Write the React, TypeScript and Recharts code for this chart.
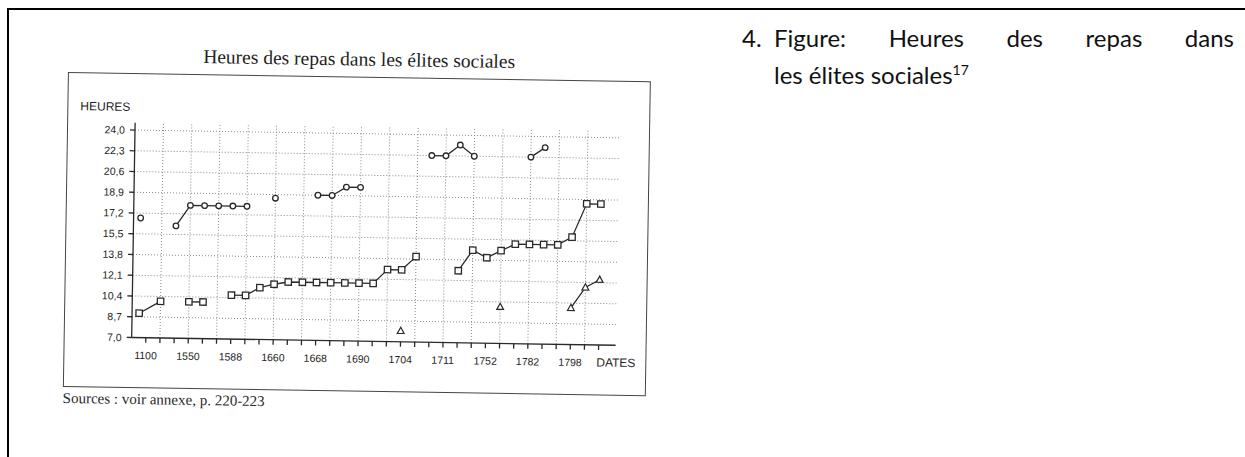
import React from "react";
import { LineChart, Line, XAxis, YAxis, ReferenceLine } from "recharts";

// slot positions along the date axis (one slot per tick, labels every 3rd tick)
const DATE_LABELS = ["1100", "1550", "1588", "1660", "1668", "1690", "1704", "1711", "1752", "1782", "1798"];
const HOUR_TICKS = [7.0, 8.7, 10.4, 12.1, 13.8, 15.5, 17.2, 18.9, 20.6, 22.3, 24.0];

// each inner array is one connected run of points: [slot, hour]
const CIRCLE_RUNS: [number, number][][] = [
  [[-0.5, 16.8]],
  [[2, 16.2], [3, 17.9], [4, 17.9], [5, 17.9], [6, 17.9], [7, 17.9]],
  [[9, 18.6]],
  [[12, 18.9], [13, 18.9], [14, 19.6], [15, 19.6]],
  [[20, 22.3], [21, 22.3], [22, 23.2], [23, 22.3]],
  [[27, 22.3], [28, 23.1]],
];

const SQUARE_RUNS: [number, number][][] = [
  [[-0.5, 9.0], [1, 10.0]],
  [[3, 10.0], [4, 10.0]],
  [[6, 10.6], [7, 10.6], [8, 11.25], [9, 11.55], [10, 11.75], [11, 11.75], [12, 11.75], [13, 11.75], [14, 11.75], [15, 11.75], [16, 11.75], [17, 12.9], [18, 12.9], [19, 14.0]],
  [[22, 12.9], [23, 14.6], [24, 14.0], [25, 14.6], [26, 15.15], [27, 15.15], [28, 15.15], [29, 15.15], [30, 15.8], [31, 18.55], [32, 18.55]],
];

const TRIANGLE_RUNS: [number, number][][] = [
  [[18, 7.9]],
  [[25, 10.0]],
  [[30, 10.0], [31, 11.7], [32, 12.35]],
];

const SLOT_TICKS = Array.from({ length: 33 }, (_, i) => i);
const GRID_X = SLOT_TICKS.filter((i) => i % 2 === 1);
const INK = "#2a2a2a";

const toRows = (run: [number, number][]) => run.map(([x, y]) => ({ x, y }));

const CircleDot = (p: any) =>
  p.cx == null ? <g key={p.index} /> : (
    <circle key={p.index} cx={p.cx} cy={p.cy} r={2.8} fill="#fff" stroke={INK} strokeWidth={1.3} />
  );

const SquareDot = (p: any) =>
  p.cx == null ? <g key={p.index} /> : (
    <rect key={p.index} x={p.cx - 3.2} y={p.cy - 3.2} width={6.4} height={6.4} fill="#fff" stroke={INK} strokeWidth={1.3} />
  );

const TriangleDot = (p: any) =>
  p.cx == null ? <g key={p.index} /> : (
    <polygon
      key={p.index}
      points={`${p.cx},${p.cy - 3.6} ${p.cx - 3.4},${p.cy + 2.6} ${p.cx + 3.4},${p.cy + 2.6}`}
      fill="#fff"
      stroke={INK}
      strokeWidth={1.2}
    />
  );

const dateLabel = (v: number) => (v % 3 === 0 && DATE_LABELS[v / 3] ? DATE_LABELS[v / 3] : "");
const hourLabel = (v: number) => v.toFixed(1).replace(".", ",");

const tickFont = { fontFamily: "Liberation Sans, Arial, sans-serif", fontSize: 10.5, fill: "#1e1e1e" };

export default function App() {
  return (
    <div style={{ position: "absolute", left: 0, top: 0, width: 1245, height: 457, background: "#fff", overflow: "hidden" }}>
      {/* page frame */}
      <div style={{ position: "absolute", left: 7, top: 8, width: 1250, height: 460, borderTop: "2px solid #000", borderLeft: "2px solid #000" }} />

      {/* scanned figure, slightly tilted */}
      <div style={{ position: "absolute", left: 0, top: 0, width: 700, height: 457, transform: "rotate(0.92deg)", transformOrigin: "134px 130px" }}>
        <div style={{ position: "absolute", left: 0, width: 716, top: 45, textAlign: "center", fontFamily: "Liberation Serif, Times New Roman, serif", fontSize: 19.5, color: "#1e1e1e" }}>
          Heures des repas dans les élites sociales
        </div>
        <div style={{ position: "absolute", left: 67, top: 73, width: 583, height: 315, border: "1.3px solid #444", boxSizing: "border-box" }} />
        <div style={{ position: "absolute", left: 80, top: 100, fontFamily: "Liberation Sans, Arial, sans-serif", fontSize: 12, color: "#1e1e1e" }}>
          HEURES
        </div>
        <div style={{ position: "absolute", left: 600, top: 348, fontFamily: "Liberation Sans, Arial, sans-serif", fontSize: 12, color: "#1e1e1e" }}>
          DATES
        </div>
        <div style={{ position: "absolute", left: 67, top: 391, fontFamily: "Liberation Serif, Times New Roman, serif", fontSize: 15, color: "#2a2a2a" }}>
          Sources : voir annexe, p. 220-223
        </div>

        <div style={{ position: "absolute", left: 0, top: 0 }}>
          <LineChart width={700} height={400} margin={{ top: 122.7, right: 81, bottom: 32.5, left: 75 }}>
            <XAxis
              dataKey="x"
              type="number"
              domain={[-1, 33.2]}
              allowDataOverflow
              ticks={SLOT_TICKS}
              interval={0}
              tickFormatter={dateLabel}
              tick={tickFont}
              tickSize={5}
              tickMargin={9}
              height={30}
              axisLine={{ stroke: INK, strokeWidth: 1.3 }}
              tickLine={{ stroke: INK, strokeWidth: 1.3 }}
            />
            <YAxis
              dataKey="y"
              type="number"
              domain={[7, 24.6]}
              allowDataOverflow
              ticks={HOUR_TICKS}
              interval={0}
              tickFormatter={hourLabel}
              tick={tickFont}
              tickSize={5}
              tickMargin={5}
              width={60}
              axisLine={{ stroke: INK, strokeWidth: 1.3 }}
              tickLine={{ stroke: INK, strokeWidth: 1.3 }}
            />
            {HOUR_TICKS.slice(1).map((h) => (
              <ReferenceLine key={`h${h}`} y={h} stroke="#8a8a8a" strokeDasharray="1 2" strokeWidth={1} />
            ))}
            {GRID_X.map((s) => (
              <ReferenceLine key={`v${s}`} x={s} stroke="#8a8a8a" strokeDasharray="1 2" strokeWidth={1} />
            ))}
            {SQUARE_RUNS.map((run, i) => (
              <Line key={`s${i}`} data={toRows(run)} dataKey="y" type="linear" stroke={INK} strokeWidth={1.3} dot={SquareDot} activeDot={false} isAnimationActive={false} />
            ))}
            {CIRCLE_RUNS.map((run, i) => (
              <Line key={`c${i}`} data={toRows(run)} dataKey="y" type="linear" stroke={INK} strokeWidth={1.3} dot={CircleDot} activeDot={false} isAnimationActive={false} />
            ))}
            {TRIANGLE_RUNS.map((run, i) => (
              <Line key={`t${i}`} data={toRows(run)} dataKey="y" type="linear" stroke={INK} strokeWidth={1.3} dot={TriangleDot} activeDot={false} isAnimationActive={false} />
            ))}
          </LineChart>
        </div>
      </div>

      {/* caption on the right */}
      <div style={{ position: "absolute", left: 742, top: 19, width: 492, fontFamily: "Lato, Calibri, sans-serif", fontSize: 24, lineHeight: "37px", color: "#111" }}>
        <div style={{ display: "flex" }}>
          <span style={{ width: 32 }}>4.</span>
          <span style={{ flex: 1, textAlign: "justify", textAlignLast: "justify" }}>Figure: Heures des repas dans</span>
        </div>
        <div style={{ paddingLeft: 32 }}>
          les élites sociales<sup style={{ fontSize: 14, lineHeight: 0 }}>17</sup>
        </div>
      </div>
    </div>
  );
}
